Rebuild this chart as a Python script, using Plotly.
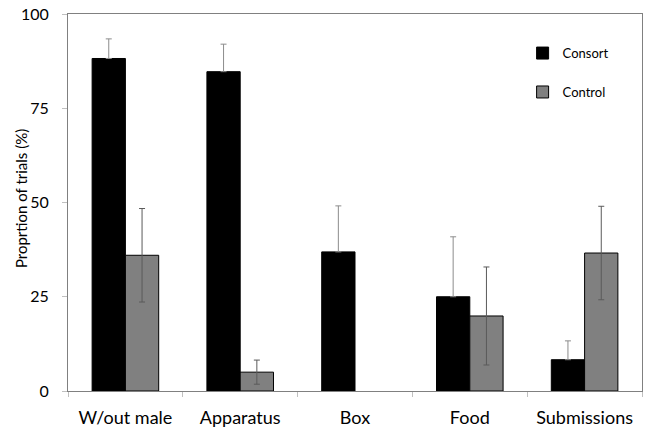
import plotly.graph_objects as go

categories = ["W/out male", "Apparatus", "Box", "Food", "Submissions"]
consort = [88.2, 84.7, 36.9, 25.0, 8.3]
consort_err = [5.2, 7.3, 12.2, 15.9, 5.0]
control = [36.0, 5.0, None, 19.9, 36.6]
control_err = [12.4, 3.2, 0.0, 13.0, 12.4]
y_ticks = [0, 25, 50, 75, 100]
y_title = "Proprtion of trials (%)"

FONT = "Lato"

fig = go.Figure()
fig.add_trace(go.Bar(
    name="Consort", x=categories, y=consort,
    marker=dict(color="black", line=dict(color="black", width=1)),
    error_y=dict(type="data", array=consort_err, arrayminus=[0]*len(consort_err),
                 symmetric=False, color="#8c8c8c", thickness=1, width=3),
    legendgroup="a",
))
fig.add_trace(go.Bar(
    name="Control", x=categories, y=control,
    marker=dict(color="#808080", line=dict(color="black", width=1)),
    error_y=dict(type="data", array=control_err, symmetric=True,
                 color="#5a5a5a", thickness=1, width=3),
    legendgroup="b",
))

fig.add_annotation(
    text=y_title, textangle=-90, xref="paper", yref="paper",
    x=-0.083, y=0.51, xanchor="center", yanchor="middle", showarrow=False,
    font=dict(size=15, family=FONT, color="black"),
)

fig.update_layout(
    width=645, height=431,
    margin=dict(l=68, r=3, t=14, b=40),
    paper_bgcolor="white", plot_bgcolor="white",
    barmode="group", bargap=0.42, bargroupgap=0,
    font=dict(family=FONT, color="black"),
    legend=dict(x=0.792, y=0.936, xanchor="left", yanchor="top",
                font=dict(size=13, family=FONT), tracegroupgap=19,
                bgcolor="rgba(0,0,0,0)"),
    xaxis=dict(showline=True, linecolor="#808080", linewidth=1, mirror=True,
               ticks="outside", tickson="boundaries", ticklen=5, tickcolor="#c0c0c0",
               ticklabelstandoff=10,
               tickfont=dict(size=18, family=FONT), showgrid=False, automargin=False),
    yaxis=dict(range=[0, 100], tickvals=y_ticks, ticktext=[str(v) for v in y_ticks],
               showline=True, linecolor="#808080", linewidth=1, mirror=True,
               ticks="outside", ticklen=5, tickcolor="#c0c0c0",
               ticklabelstandoff=10,
               tickfont=dict(size=16, family=FONT), showgrid=False, zeroline=False,
               automargin=False),
)

fig.write_html("out.html", config={"displayModeBar": False},
               post_script="document.body.style.margin='0px';")
